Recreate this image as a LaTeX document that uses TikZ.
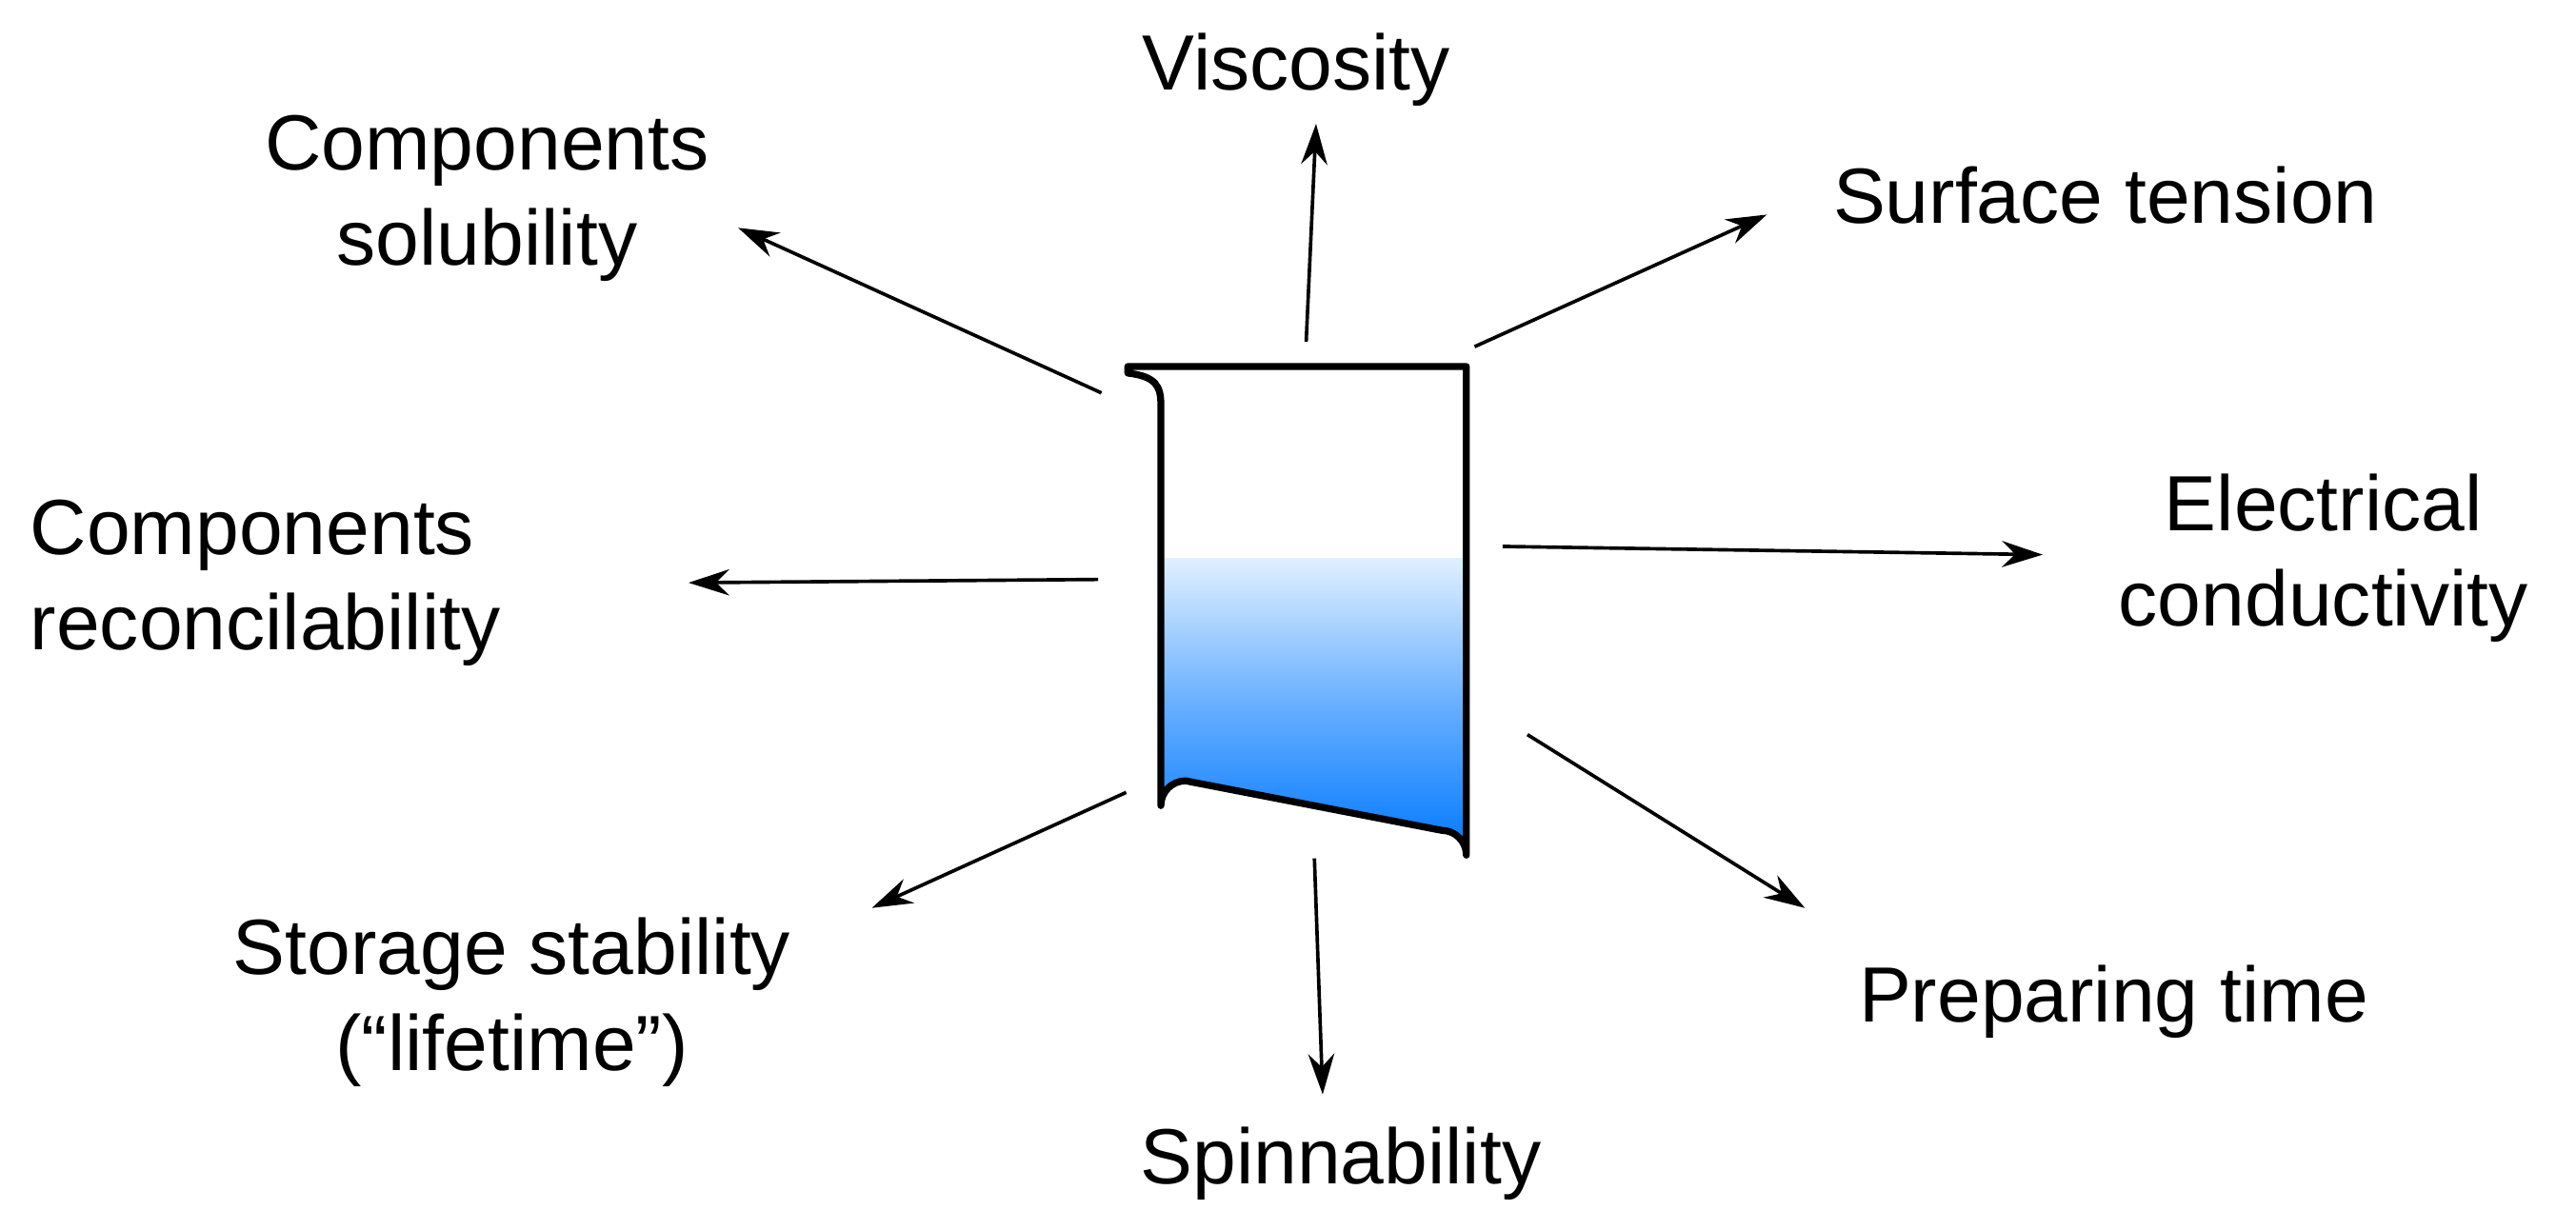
\documentclass[tikz,border=0pt]{standalone}
\usepackage{fontspec}
\setmainfont{Liberation Sans}
\usetikzlibrary{arrows.meta}
\definecolor{liqtop}{RGB}{225,240,255}
\definecolor{liqbot}{RGB}{0,120,255}
\begin{document}
\begin{tikzpicture}[x=0.02cm,y=-0.02cm,
  lab/.style={font=\fontsize{27}{33}\selectfont,align=center,inner sep=0pt},
  arr/.style={-{Stealth[length=14pt,width=9pt]},line width=1.2pt}]
\useasboundingbox (0,0) rectangle (1560,745);
% liquid
\shade[top color=liqtop,bottom color=liqbot,middle color=liqbot!55!liqtop]
  (703,338) -- (703,488) arc[start angle=180,end angle=270,radius=15] -- (873,503)
  arc[start angle=270,end angle=360,radius=15] -- (888,338) -- cycle;
% beaker outline
\draw[line width=2.4pt,line join=round]
  (683,226) .. controls (700,228) and (703,234) .. (703,245) -- (703,488)
  arc[start angle=180,end angle=270,radius=15] -- (873,503)
  arc[start angle=270,end angle=360,radius=15] -- (888,222) -- (683,222) -- cycle;
% anchors
\coordinate (b1) at (791,207); \coordinate (b2) at (893,210);
\coordinate (b3) at (667,238); \coordinate (b4) at (665,351);
\coordinate (b5) at (910,331); \coordinate (b6) at (682,480);
\coordinate (b7) at (796,520); \coordinate (b8) at (925,445);
\coordinate (e1) at (797,75);  \coordinate (e2) at (1070,130);
\coordinate (e3) at (447,138); \coordinate (e4) at (417,353);
\coordinate (e5) at (1237,336); \coordinate (e6) at (528,550);
\coordinate (e7) at (801,663); \coordinate (e8) at (1093,550);
\draw[arr] (b1) -- (e1); \draw[arr] (b2) -- (e2); \draw[arr] (b3) -- (e3);
\draw[arr] (b4) -- (e4); \draw[arr] (b5) -- (e5); \draw[arr] (b6) -- (e6);
\draw[arr] (b7) -- (e7); \draw[arr] (b8) -- (e8);
% labels
\node[lab] (t1) at (785,42) {Viscosity};
\node[lab] (t2) at (1275,118) {Surface tension};
\node[lab] (t3) at (295,120) {Components\\solubility};
\node[lab,align=left,anchor=west] (t4) at (18,353) {Components\\reconcilability};
\node[lab] (t5) at (1407,338) {Electrical\\conductivity};
\node[lab] (t6) at (310,607) {Storage stability\\(“lifetime”)};
\node[lab] (t7) at (812,705) {Spinnability};
\node[lab] (t8) at (1280,607) {Preparing time};
\end{tikzpicture}
\end{document}
